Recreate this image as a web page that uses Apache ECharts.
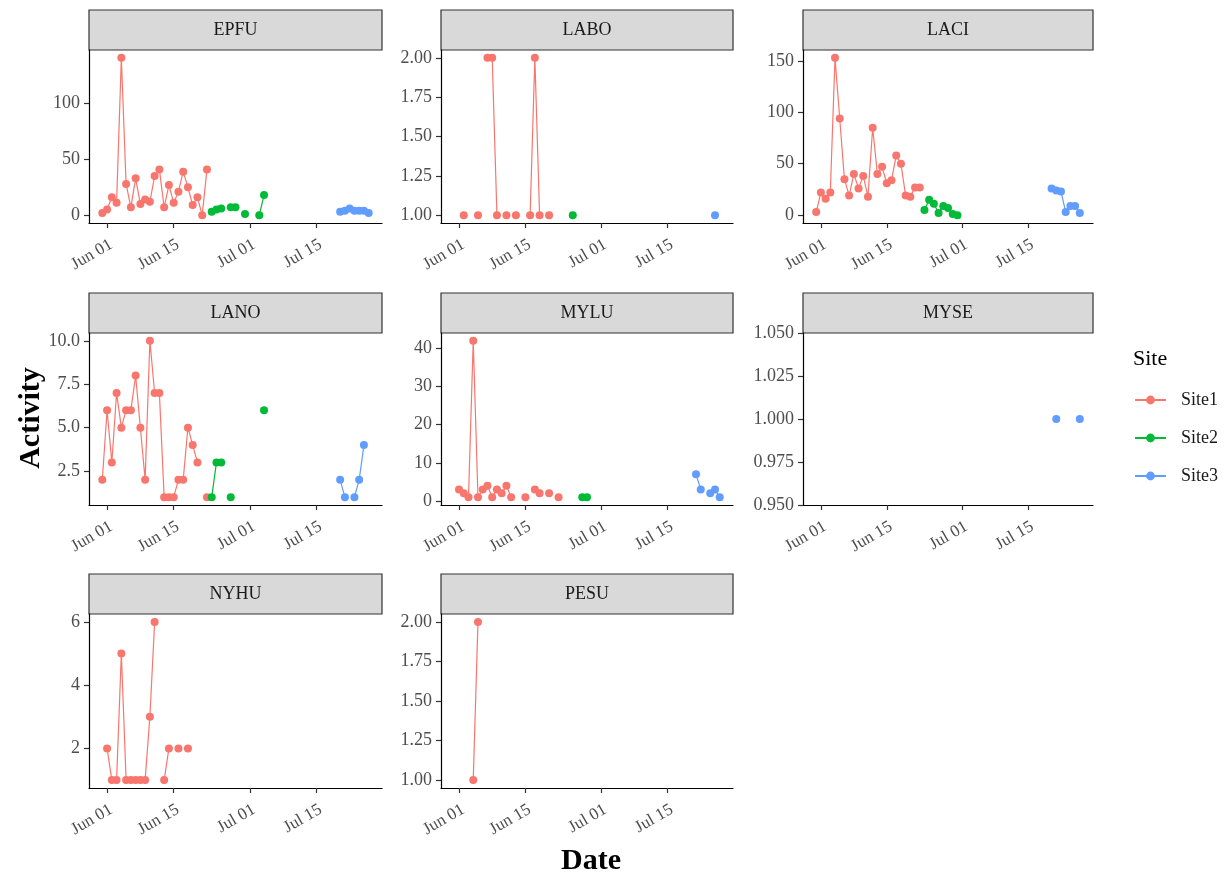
<!DOCTYPE html>
<html>
<head>
<meta charset="utf-8">
<script src="https://cdn.jsdelivr.net/npm/echarts@6/dist/echarts.min.js"></script>
<style>
  html, body { margin: 0; padding: 0; background: #ffffff; }
  #chart { width: 1229px; height: 876px; }
</style>
</head>
<body>
<div id="chart"></div>
<script>
// ---- Data: nightly activity per species and site (dates as MM-DD) ----
const speciesNames = ['EPFU', 'LABO', 'LACI', 'LANO', 'MYLU', 'MYSE', 'NYHU', 'PESU'];
const siteNames = ['Site1', 'Site2', 'Site3'];
const siteColors = ['#F8766D', '#00BA38', '#619CFF'];

const EPFU_Site1_dates = ['05-31','06-01','06-02','06-03','06-04','06-05','06-06','06-07','06-08','06-09','06-10','06-11','06-12','06-13','06-14','06-15','06-16','06-17','06-18','06-19','06-20','06-21','06-22'];
const EPFU_Site1_values = [2, 5, 16, 11, 141, 28, 7, 33, 10, 14, 12, 35, 41, 7, 27, 11, 21, 39, 25, 9, 16, 0, 41];
const EPFU_Site2_dates = ['06-23','06-24','06-25','06-27','06-28','06-30','07-03','07-04'];
const EPFU_Site2_values = [3, 5, 6, 7, 7, 1, 0, 18];
const EPFU_Site3_dates = ['07-20','07-21','07-22','07-23','07-24','07-25','07-26'];
const EPFU_Site3_values = [3, 4, 6, 4, 4, 4, 2];

const LABO_Site1_dates = ['06-02','06-05','06-07','06-08','06-09','06-11','06-13','06-16','06-17','06-18','06-20'];
const LABO_Site1_values = [1, 1, 2, 2, 1, 1, 1, 1, 2, 1, 1];
const LABO_Site2_dates = ['06-25'];
const LABO_Site2_values = [1];
const LABO_Site3_dates = ['07-25'];
const LABO_Site3_values = [1];

const LACI_Site1_dates = ['05-31','06-01','06-02','06-03','06-04','06-05','06-06','06-07','06-08','06-09','06-10','06-11','06-12','06-13','06-14','06-15','06-16','06-17','06-18','06-19','06-20','06-21','06-22'];
const LACI_Site1_values = [3, 22, 16, 22, 153, 94, 35, 19, 40, 26, 38, 18, 85, 40, 47, 31, 34, 58, 50, 19, 18, 27, 27];
const LACI_Site2_dates = ['06-23','06-24','06-25','06-26','06-27','06-28','06-29','06-30'];
const LACI_Site2_values = [5, 15, 11, 2, 9, 7, 1, 0];
const LACI_Site3_dates = ['07-20','07-21','07-22','07-23','07-24','07-25','07-26'];
const LACI_Site3_values = [26, 24, 23, 3, 9, 9, 2];

const LANO_Site1_dates = ['05-31','06-01','06-02','06-03','06-04','06-05','06-06','06-07','06-08','06-09','06-10','06-11','06-12','06-13','06-14','06-15','06-16','06-17','06-18','06-19','06-20','06-22'];
const LANO_Site1_values = [2, 6, 3, 7, 5, 6, 6, 8, 5, 2, 10, 7, 7, 1, 1, 1, 2, 2, 5, 4, 3, 1];
const LANO_Site2_dates = ['06-23','06-24','06-25','06-27','07-04'];
const LANO_Site2_values = [1, 3, 3, 1, 6];
const LANO_Site3_dates = ['07-20','07-21','07-23','07-24','07-25'];
const LANO_Site3_values = [2, 1, 1, 2, 4];

const MYLU_Site1_dates = ['06-01','06-02','06-03','06-04','06-05','06-06','06-07','06-08','06-09','06-10','06-11','06-12','06-15','06-17','06-18','06-20','06-22'];
const MYLU_Site1_values = [3, 2, 1, 42, 1, 3, 4, 1, 3, 2, 4, 1, 1, 3, 2, 2, 1];
const MYLU_Site2_dates = ['06-27','06-28'];
const MYLU_Site2_values = [1, 1];
const MYLU_Site3_dates = ['07-21','07-22','07-24','07-25','07-26'];
const MYLU_Site3_values = [7, 3, 2, 3, 1];

const MYSE_Site3_dates = ['07-21','07-26'];
const MYSE_Site3_values = [1, 1];

const NYHU_Site1_dates = ['06-01','06-02','06-03','06-04','06-05','06-06','06-07','06-08','06-09','06-10','06-11','06-13','06-14','06-16','06-18'];
const NYHU_Site1_values = [2, 1, 1, 5, 1, 1, 1, 1, 1, 3, 6, 1, 2, 2, 2];

const PESU_Site1_dates = ['06-04','06-05'];
const PESU_Site1_values = [1, 2];

// y tick marks for each facet and the decimals shown on them
const EPFU_ticks = [0, 50, 100];
const LABO_ticks = [1, 1.25, 1.5, 1.75, 2];
const LACI_ticks = [0, 50, 100, 150];
const LANO_ticks = [2.5, 5, 7.5, 10];
const MYLU_ticks = [0, 10, 20, 30, 40];
const MYSE_ticks = [0.95, 0.975, 1, 1.025, 1.05];
const NYHU_ticks = [2, 4, 6];
const PESU_ticks = [1, 1.25, 1.5, 1.75, 2];
const tickDecimals = [0, 2, 0, 1, 0, 3, 0, 2];

// x tick marks shared by every facet
const xTickDates = ['06-01', '06-15', '07-01', '07-15'];
const xTickLabels = ['Jun 01', 'Jun 15', 'Jul 01', 'Jul 15'];

// ---- Assemble per-facet lookup ----
const facetSeries = {
  EPFU: [[EPFU_Site1_dates, EPFU_Site1_values], [EPFU_Site2_dates, EPFU_Site2_values], [EPFU_Site3_dates, EPFU_Site3_values]],
  LABO: [[LABO_Site1_dates, LABO_Site1_values], [LABO_Site2_dates, LABO_Site2_values], [LABO_Site3_dates, LABO_Site3_values]],
  LACI: [[LACI_Site1_dates, LACI_Site1_values], [LACI_Site2_dates, LACI_Site2_values], [LACI_Site3_dates, LACI_Site3_values]],
  LANO: [[LANO_Site1_dates, LANO_Site1_values], [LANO_Site2_dates, LANO_Site2_values], [LANO_Site3_dates, LANO_Site3_values]],
  MYLU: [[MYLU_Site1_dates, MYLU_Site1_values], [MYLU_Site2_dates, MYLU_Site2_values], [MYLU_Site3_dates, MYLU_Site3_values]],
  MYSE: [null, null, [MYSE_Site3_dates, MYSE_Site3_values]],
  NYHU: [[NYHU_Site1_dates, NYHU_Site1_values], null, null],
  PESU: [[PESU_Site1_dates, PESU_Site1_values], null, null]
};
const facetTicks = [EPFU_ticks, LABO_ticks, LACI_ticks, LANO_ticks, MYLU_ticks, MYSE_ticks, NYHU_ticks, PESU_ticks];

// day number relative to 1 June
function toDay(s) {
  const [m, d] = s.split('-').map(Number);
  if (m === 5) return d - 32;
  if (m === 6) return d - 1;
  return d + 29;
}

// consecutive nights are joined; a gap of one or more nights breaks the line
function lineData(dates, values) {
  const out = [];
  for (let i = 0; i < dates.length; i++) {
    const x = toDay(dates[i]);
    if (i > 0 && x - toDay(dates[i - 1]) > 1) out.push([x - 0.5, '-']);
    out.push([x, values[i]]);
  }
  return out;
}

// ---- Layout ----
const FONT = 'Liberation Serif';
const colLeft = [89, 441, 803];
const colWidth = [293, 292, 290];
const rowTop = [50, 333, 614];
const rowHeight = [173, 172, 174];
const stripH = 40;

// shared x extent with 5% padding
let allDays = [];
speciesNames.forEach(sp => facetSeries[sp].forEach(s => { if (s) s[0].forEach(d => allDays.push(toDay(d))); }));
const dMin = Math.min(...allDays), dMax = Math.max(...allDays);
const xPad = (dMax - dMin) * 0.05;
const xMin = dMin - xPad, xMax = dMax + xPad;
const xTickDays = xTickDates.map(toDay);

const grids = [], xAxes = [], yAxes = [], series = [], graphics = [];

speciesNames.forEach((sp, i) => {
  const r = Math.floor(i / 3), c = i % 3;
  grids.push({ left: colLeft[c], top: rowTop[r], width: colWidth[c], height: rowHeight[r], containLabel: false });

  let vals = [];
  facetSeries[sp].forEach(s => { if (s) vals = vals.concat(s[1]); });
  const vMin = Math.min(...vals), vMax = Math.max(...vals);
  let yMin, yMax;
  if (vMax === vMin) { yMin = facetTicks[i][0]; yMax = facetTicks[i][facetTicks[i].length - 1]; }
  else { const p = (vMax - vMin) * 0.05; yMin = vMin - p; yMax = vMax + p; }
  const dec = tickDecimals[i];

  xAxes.push({
    type: 'value', gridIndex: i, min: xMin, max: xMax,
    axisLine: { show: true, onZero: false, lineStyle: { color: '#000', width: 1.2 } },
    axisTick: { show: true, length: 5, customValues: xTickDays, lineStyle: { color: '#333', width: 1.2 } },
    axisLabel: {
      customValues: xTickDays, rotate: 30, margin: 13, verticalAlign: 'top',
      formatter: v => xTickLabels[xTickDays.indexOf(v)] || '',
      color: '#4D4D4D', fontFamily: FONT, fontSize: 17
    },
    splitLine: { show: false }
  });
  yAxes.push({
    type: 'value', gridIndex: i, min: yMin, max: yMax,
    axisLine: { show: true, onZero: false, lineStyle: { color: '#000', width: 1.2 } },
    axisTick: { show: true, length: 5, customValues: facetTicks[i], lineStyle: { color: '#333', width: 1.2 } },
    axisLabel: {
      customValues: facetTicks[i], margin: 9,
      formatter: v => Number(v).toFixed(dec),
      color: '#4D4D4D', fontFamily: FONT, fontSize: 18
    },
    splitLine: { show: false }
  });

  facetSeries[sp].forEach((s, k) => {
    if (!s) return;
    series.push({
      type: 'line', name: siteNames[k], xAxisIndex: i, yAxisIndex: i,
      data: lineData(s[0], s[1]),
      symbol: 'circle', symbolSize: 8, showSymbol: true, connectNulls: false,
      itemStyle: { color: siteColors[k] },
      lineStyle: { color: siteColors[k], width: 1.2 },
      emphasis: { disabled: true }
    });
  });

  // facet strip
  graphics.push({
    type: 'rect', shape: { x: colLeft[c], y: rowTop[r] - stripH, width: colWidth[c], height: stripH },
    style: { fill: '#D9D9D9', stroke: '#333333', lineWidth: 1.2 }
  });
  graphics.push({
    type: 'text', x: colLeft[c] + colWidth[c] / 2, y: rowTop[r] - stripH / 2,
    style: { text: sp, fill: '#1A1A1A', font: '18px "' + FONT + '"', textAlign: 'center', textVerticalAlign: 'middle' }
  });
});

// axis titles and legend title
graphics.push({
  type: 'text', x: 31, y: 418, rotation: Math.PI / 2,
  style: { text: 'Activity', fill: '#000', font: 'bold 30px "' + FONT + '"', textAlign: 'center', textVerticalAlign: 'middle' }
});
graphics.push({
  type: 'text', x: 591, y: 861,
  style: { text: 'Date', fill: '#000', font: 'bold 30px "' + FONT + '"', textAlign: 'center', textVerticalAlign: 'middle' }
});
graphics.push({
  type: 'text', x: 1133, y: 359,
  style: { text: 'Site', fill: '#000', font: '22px "' + FONT + '"', textAlign: 'left', textVerticalAlign: 'middle' }
});

const chart = echarts.init(document.getElementById('chart'), null, { renderer: 'canvas' });
chart.setOption({
  animation: false,
  backgroundColor: '#ffffff',
  grid: grids,
  xAxis: xAxes,
  yAxis: yAxes,
  series: series,
  legend: {
    data: siteNames, orient: 'vertical', left: 1129, top: 386,
    itemWidth: 31, itemHeight: 11, itemGap: 20, selectedMode: false,
    textStyle: { fontFamily: FONT, fontSize: 18, color: '#1A1A1A', padding: [0, 0, 0, 10] }
  },
  graphic: graphics
});
</script>
</body>
</html>
